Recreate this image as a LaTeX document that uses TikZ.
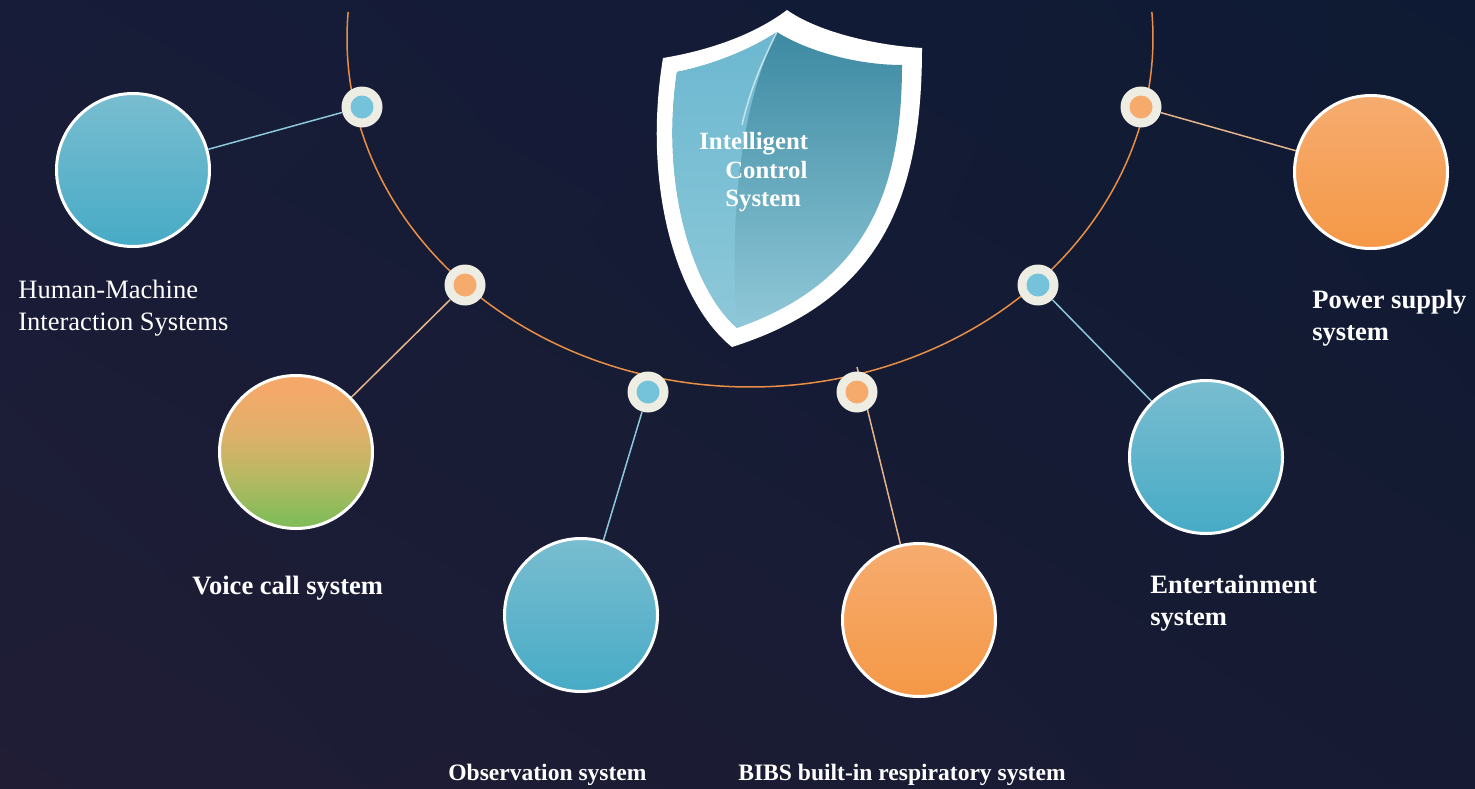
\documentclass[tikz,border=0pt]{standalone}
\usepackage{fontspec}
\setmainfont{Liberation Serif}
\usetikzlibrary{shadings}

\definecolor{bgtl}{HTML}{171C38}
\definecolor{bgtr}{HTML}{0E1A33}
\definecolor{bgbl}{HTML}{201D35}
\definecolor{bgbr}{HTML}{161B33}
\definecolor{orbitcol}{HTML}{E98F45}
\definecolor{hubring}{HTML}{EEEDE3}
\definecolor{dotblue}{HTML}{74C3DB}
\definecolor{dotorange}{HTML}{F6AA6B}
\definecolor{wireblue}{HTML}{8DC8DA}
\definecolor{wireorange}{HTML}{E5B48B}
\definecolor{ballbluetop}{HTML}{79BDD0}
\definecolor{ballbluebot}{HTML}{47ABC6}
\definecolor{ballorangetop}{HTML}{F6AC70}
\definecolor{ballorangebot}{HTML}{F59846}
\definecolor{voicetop}{HTML}{F4A96A}
\definecolor{voicewarm}{HTML}{DFB06A}
\definecolor{voiceolive}{HTML}{B7B862}
\definecolor{voicebot}{HTML}{84BC59}
\definecolor{faceleft}{HTML}{6CB8D0}
\definecolor{faceleftbot}{HTML}{8DC8D9}
\definecolor{facetop}{HTML}{3D8AA2}
\definecolor{facebot}{HTML}{90C8D8}

\pgfdeclareverticalshading{voicefade}{100bp}{color(0bp)=(voicebot); color(28bp)=(voicebot);
  color(42bp)=(voiceolive); color(56bp)=(voicewarm); color(70bp)=(voicetop); color(100bp)=(voicetop)}

\tikzset{
  orbit/.style={draw=orbitcol, line width=0.3mm},
  sysball/.style={circle, draw=white, line width=0.6mm, minimum size=30.6mm, inner sep=0pt},
  blueball/.style={sysball, top color=ballbluetop, bottom color=ballbluebot},
  orangeball/.style={sysball, top color=ballorangetop, bottom color=ballorangebot},
  voiceball/.style={sysball, shading=voicefade},
  hub/.style={circle, fill=hubring, minimum size=8.2mm, inner sep=0pt},
  bluecore/.style={path picture={\fill[dotblue] (path picture bounding box.center) circle (2.3mm);}},
  orangecore/.style={path picture={\fill[dotorange] (path picture bounding box.center) circle (2.3mm);}},
  bluewire/.style={draw=wireblue, line width=0.3mm},
  orangewire/.style={draw=wireorange, line width=0.3mm},
  captxt/.style={text=white, align=left, inner sep=0pt, font=\fontsize{15.1}{17.9}\selectfont},
  capbold/.style={captxt, font=\fontsize{15.1}{17.9}\selectfont\bfseries},
  capsmall/.style={captxt, font=\fontsize{13.4}{16}\selectfont\bfseries}
}

\begin{document}
\begin{tikzpicture}[x=0.2mm, y=-0.2mm]
  \useasboundingbox (0,0) rectangle (1475,789);

  % Background
  \shade[upper left=bgtl, upper right=bgtr, lower left=bgbl, lower right=bgbr] (0,0) rectangle (1475,789);

  % Draw orbit
  \draw[orbit] (750,38) ++(184.3:403 and 349)
    arc[start angle=184.3, end angle=-4.3, x radius=403, y radius=349];

  % Shield
  \fill[white] (787,10) .. controls (815,30) and (870,45) .. (922,48)
    .. controls (922,200) and (880,300) .. (732,347)
    .. controls (676,302) and (642,185) .. (663,58)
    .. controls (700,52) and (750,38) .. cycle;
  \shade[top color=facetop, bottom color=facebot] (777,32) .. controls (805,50) and (855,65) .. (902,65)
    .. controls (902,200) and (860,285) .. (737,328)
    .. controls (693,290) and (660,185) .. (677,72)
    .. controls (712,65) and (750,50) .. cycle;
  \shade[top color=faceleft, bottom color=faceleftbot] (777,32) .. controls (745,95) and (728,200) .. (737,328)
    .. controls (693,290) and (660,185) .. (677,72)
    .. controls (712,65) and (750,50) .. cycle;
  \draw[white, opacity=0.6, line width=0.3mm] (777,32) .. controls (762,62) and (750,90) .. (742,125);
  \node[capbold, anchor=north west, font=\fontsize{14.1}{16.2}\selectfont\bfseries] (ics) at (699,132)
    {Intelligent\\\hspace*{5.2mm}Control\\\hspace*{5.2mm}System};

  % Subsystems
  \node[blueball] (hmi) at (133,170) {};
  \node[voiceball] (voice) at (296,452) {};
  \node[blueball] (obs) at (581,615) {};
  \node[orangeball] (bibs) at (919,620) {};
  \node[blueball] (fun) at (1206,457) {};
  \node[orangeball] (power) at (1371,172) {};

  \coordinate (bibstip) at (857,367);
  \draw[orangewire] (bibs) -- (bibstip);

  % Hubs on the orbit
  \node[hub, bluecore] (h1) at (362,107) {};
  \node[hub, orangecore] (h2) at (465,285) {};
  \node[hub, bluecore] (h3) at (648,392) {};
  \node[hub, orangecore] (h4) at (857,392) {};
  \node[hub, bluecore] (h5) at (1038,285) {};
  \node[hub, orangecore] (h6) at (1141,107) {};

  % Connectors
  \draw[bluewire] (h1) -- (hmi);
  \draw[orangewire] (h2) -- (voice);
  \draw[bluewire] (h3) -- (obs);
  \draw[bluewire] (h5) -- (fun);
  \draw[orangewire] (h6) -- (power);

  % Labels
  \node[captxt, anchor=north west] (hmitxt) at (18,280) {Human-Machine\\Interaction Systems};
  \node[capbold, anchor=west] (voicetxt) at (192,588) {Voice call system};
  \node[capsmall, anchor=west] (obstxt) at (448,775) {Observation system};
  \node[capsmall, anchor=west] (bibstxt) at (738,775) {BIBS built-in respiratory system};
  \node[capbold, anchor=north west] (funtxt) at (1150,575) {Entertainment\\system};
  \node[capbold, anchor=north west] (powertxt) at (1312,290) {Power supply\\system};
\end{tikzpicture}
\end{document}
